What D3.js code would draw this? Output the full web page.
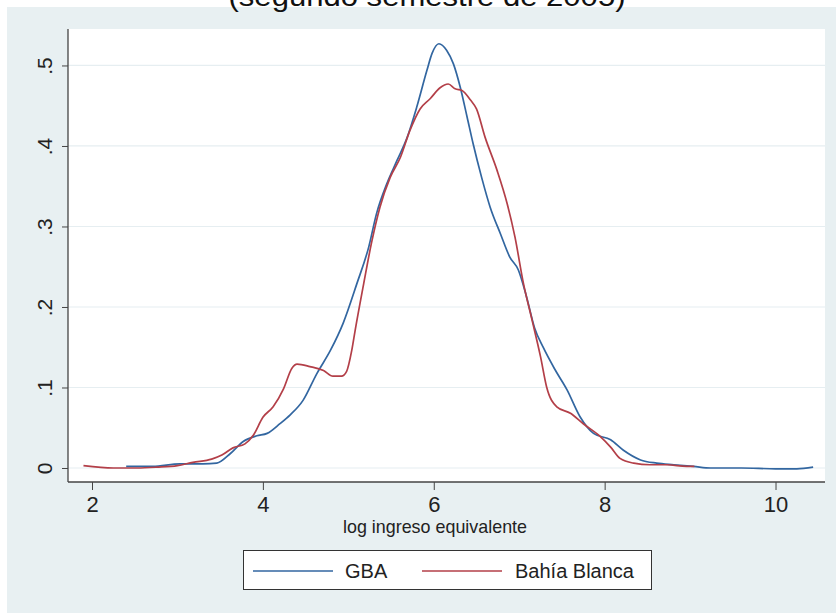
<!DOCTYPE html>
<html>
<head>
<meta charset="utf-8">
<script src="https://cdn.jsdelivr.net/npm/d3@7"></script>
<style>
  html, body { margin: 0; padding: 0; background: #ffffff; }
  svg { display: block; font-family: "Liberation Sans", Arial, Helvetica, sans-serif; }
</style>
</head>
<body>
<svg id="chart" width="836" height="613"></svg>
<script>
// Kernel density of log equivalent income, two regions: [log income, density]
const gbaDensity = [
  [2.40, 0.002], [2.71, 0.002], [3.03, 0.005], [3.30, 0.005], [3.46, 0.006],
  [3.62, 0.018], [3.77, 0.033], [3.93, 0.040], [4.05, 0.043], [4.20, 0.055],
  [4.32, 0.066], [4.47, 0.084], [4.63, 0.117], [4.79, 0.146], [4.94, 0.180],
  [5.10, 0.229], [5.24, 0.275], [5.33, 0.316], [5.45, 0.353], [5.57, 0.382],
  [5.69, 0.411], [5.80, 0.448], [5.92, 0.494], [5.98, 0.515], [6.06, 0.527],
  [6.15, 0.519], [6.23, 0.502], [6.31, 0.473], [6.39, 0.436], [6.46, 0.403],
  [6.56, 0.361], [6.66, 0.324], [6.78, 0.291], [6.89, 0.262], [6.99, 0.246],
  [7.08, 0.215], [7.18, 0.174], [7.28, 0.150], [7.42, 0.122], [7.56, 0.097],
  [7.71, 0.064], [7.87, 0.043], [8.07, 0.035], [8.22, 0.022], [8.42, 0.010],
  [8.61, 0.006], [8.81, 0.004], [9.04, 0.002], [9.24, 0.000], [9.60, 0.000],
  [10.00, -0.001], [10.25, -0.001], [10.44, 0.001]
];
const bahiaDensity = [
  [1.90, 0.003], [2.25, 0.000], [2.53, 0.000], [2.76, 0.001], [3.00, 0.003],
  [3.18, 0.007], [3.40, 0.011], [3.52, 0.016], [3.65, 0.025], [3.79, 0.030],
  [3.89, 0.041], [4.00, 0.063], [4.12, 0.076], [4.24, 0.098], [4.34, 0.124],
  [4.40, 0.129], [4.55, 0.126], [4.71, 0.121], [4.82, 0.114], [4.92, 0.114],
  [4.98, 0.120], [5.04, 0.146], [5.08, 0.171], [5.18, 0.229], [5.27, 0.279],
  [5.37, 0.324], [5.49, 0.361], [5.61, 0.386], [5.72, 0.419], [5.84, 0.446],
  [5.96, 0.459], [6.07, 0.472], [6.17, 0.477], [6.25, 0.471], [6.33, 0.469],
  [6.43, 0.457], [6.50, 0.446], [6.60, 0.411], [6.74, 0.370], [6.86, 0.328],
  [6.95, 0.287], [7.05, 0.229], [7.15, 0.184], [7.25, 0.138], [7.32, 0.101],
  [7.44, 0.076], [7.60, 0.068], [7.75, 0.055], [7.95, 0.039], [8.07, 0.026],
  [8.18, 0.012], [8.34, 0.006], [8.53, 0.004], [8.73, 0.004], [8.96, 0.002],
  [9.05, 0.002]
];
const seriesNames = ["GBA", "Bahía Blanca"];
const xTicks = [2, 4, 6, 8, 10];
const yTicks = [0, 0.1, 0.2, 0.3, 0.4, 0.5];
const yTickLabels = ["0", ".1", ".2", ".3", ".4", ".5"];
const titleText = "(segundo semestre de 2005)";
const xAxisTitle = "log ingreso equivalente";

const colors = { gba: "#3266a0", bahia: "#b33f48" };
const svg = d3.select("#chart");

// outer graph region
svg.append("rect").attr("x", 7).attr("y", 7).attr("width", 829).attr("height", 606)
  .attr("fill", "#e8f0f2");

// subtitle, sitting at the top edge of the page
svg.append("text").attr("x", 427).attr("y", 6).attr("text-anchor", "middle")
  .attr("font-size", 27).attr("fill", "#111")
  .attr("textLength", 397).attr("lengthAdjust", "spacingAndGlyphs")
  .text(titleText);

const plot = { left: 68, right: 825, top: 29, bottom: 482 };
const x = d3.scaleLinear().domain([1.719, 10.579]).range([plot.left, plot.right]);
const y = d3.scaleLinear().domain([-0.0174, 0.5453]).range([plot.bottom, plot.top]);

svg.append("rect").attr("x", plot.left).attr("y", plot.top)
  .attr("width", plot.right - plot.left).attr("height", plot.bottom - plot.top)
  .attr("fill", "#ffffff");

// horizontal grid
svg.append("g").selectAll("line").data(yTicks).join("line")
  .attr("x1", plot.left).attr("x2", plot.right)
  .attr("y1", d => y(d)).attr("y2", d => y(d))
  .attr("stroke", "#e6eef1").attr("stroke-width", 1.2);

// y axis
const yAxis = svg.append("g").attr("transform", `translate(${plot.left},0)`)
  .call(d3.axisLeft(y).tickValues(yTicks).tickSize(6).tickPadding(8)
    .tickFormat((d, i) => yTickLabels[i]));
yAxis.select(".domain").attr("d", `M0,${plot.top}V${plot.bottom}`).attr("stroke", "#444").attr("stroke-width", 1.3);
yAxis.selectAll(".tick line").attr("stroke", "#444");
yAxis.selectAll(".tick text")
  .attr("font-size", 21).attr("fill", "#222")
  .attr("text-anchor", "middle").attr("dy", null)
  .attr("transform", "translate(-24,0) rotate(-90)")
  .attr("x", 0).attr("y", 0).attr("dominant-baseline", "central");

// x axis
const xAxis = svg.append("g").attr("transform", `translate(0,${plot.bottom})`)
  .call(d3.axisBottom(x).tickValues(xTicks).tickSize(8).tickPadding(6)
    .tickFormat(d3.format("d")));
xAxis.select(".domain").attr("d", `M${plot.left},0H${plot.right}`).attr("stroke", "#444").attr("stroke-width", 1.3);
xAxis.selectAll(".tick line").attr("stroke", "#444");
xAxis.selectAll(".tick text").attr("font-size", 22).attr("fill", "#222");

svg.append("text").attr("x", 435).attr("y", 533).attr("text-anchor", "middle")
  .attr("font-size", 19).attr("fill", "#222")
  .attr("textLength", 184).attr("lengthAdjust", "spacingAndGlyphs")
  .text(xAxisTitle);

// density curves
const line = d3.line().x(d => x(d[0])).y(d => y(d[1])).curve(d3.curveMonotoneX);
svg.append("path").datum(gbaDensity).attr("d", line)
  .attr("fill", "none").attr("stroke", colors.gba).attr("stroke-width", 1.7);
svg.append("path").datum(bahiaDensity).attr("d", line)
  .attr("fill", "none").attr("stroke", colors.bahia).attr("stroke-width", 1.7);

// legend
const lg = svg.append("g");
lg.append("rect").attr("x", 243.5).attr("y", 550.5).attr("width", 408).attr("height", 39)
  .attr("fill", "#ffffff").attr("stroke", "#333").attr("stroke-width", 1);
const legendItems = [
  { name: seriesNames[0], color: colors.gba, x0: 253, tx: 345 },
  { name: seriesNames[1], color: colors.bahia, x0: 422, tx: 515 }
];
legendItems.forEach(it => {
  lg.append("line").attr("x1", it.x0).attr("x2", it.x0 + 80).attr("y1", 571).attr("y2", 571)
    .attr("stroke", it.color).attr("stroke-width", 1.7);
  lg.append("text").attr("x", it.tx).attr("y", 578).attr("font-size", 20).attr("fill", "#222")
    .text(it.name);
});
</script>
</body>
</html>
